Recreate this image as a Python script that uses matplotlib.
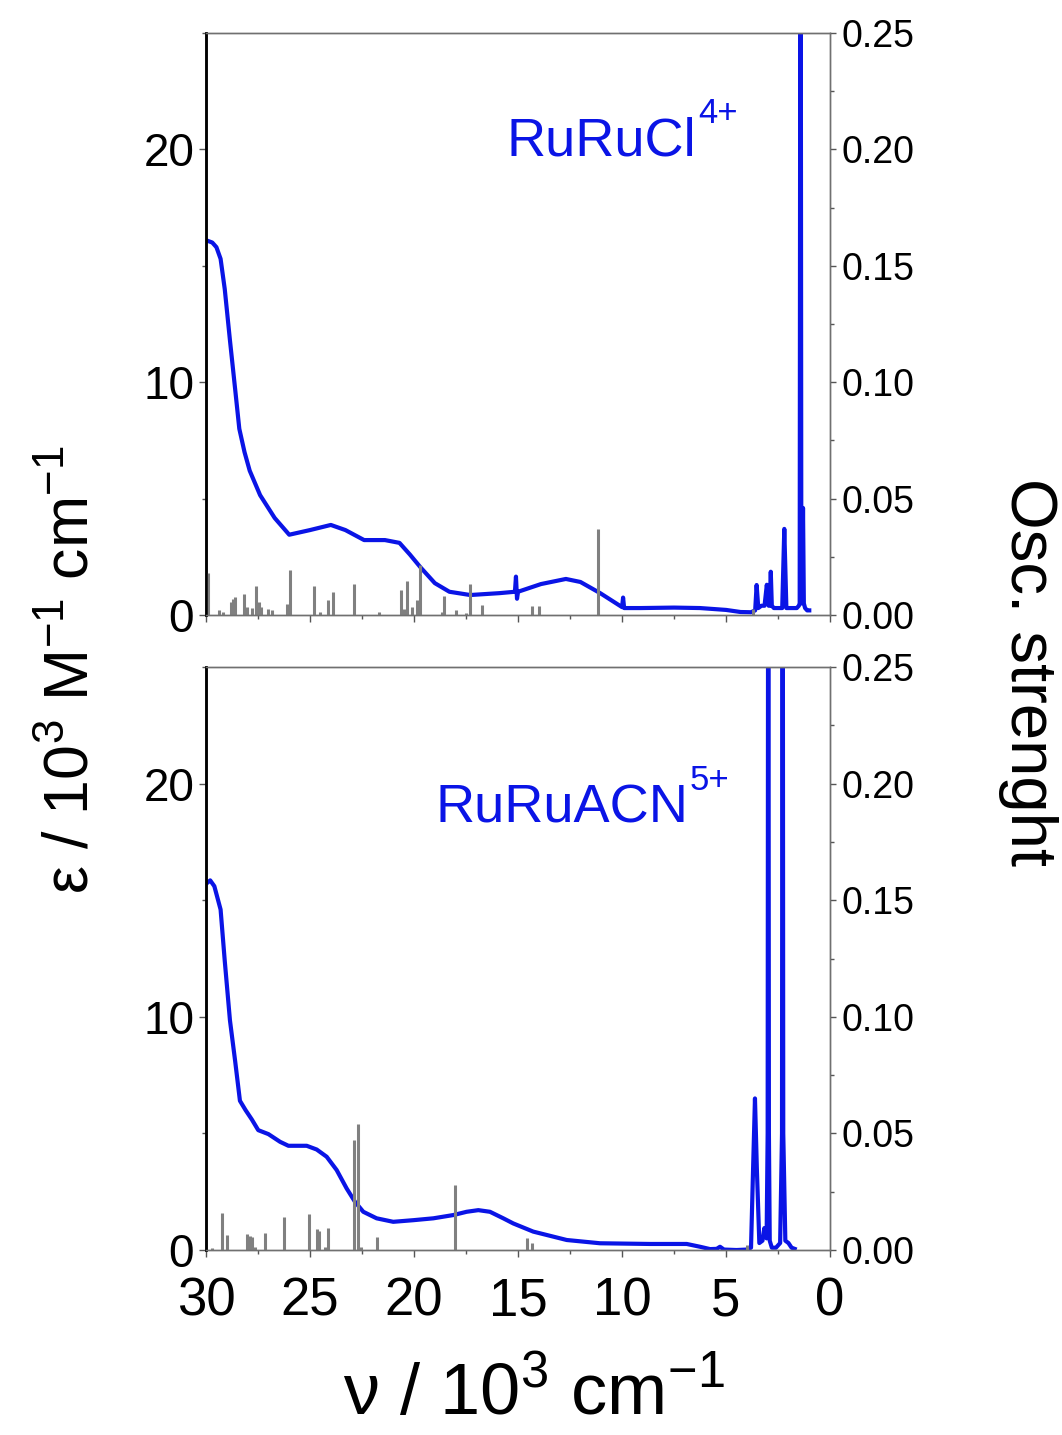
import matplotlib.pyplot as plt
from matplotlib.ticker import MultipleLocator

plt.rcParams['font.family'] = ['Liberation Sans', 'DejaVu Sans']
plt.rcParams['mathtext.fontset'] = 'custom'
plt.rcParams['mathtext.rm'] = 'Liberation Sans'
plt.rcParams['mathtext.it'] = 'Liberation Sans'

# spectrum RuRuCl4+ (wavenumber / 10^3 cm-1, epsilon / 10^3 M-1 cm-1)
cl_nu = [30.0, 29.7, 29.5, 29.3, 29.1, 28.85, 28.6, 28.4, 28.15, 27.9, 27.4, 26.7, 26.0,
         25.0, 24.0, 23.3, 22.4, 21.4, 20.7, 20.2, 19.7, 19.0, 18.3, 17.3, 15.9,
         15.15, 15.1, 15.05, 15.0, 13.9, 12.7, 12.0, 11.05, 10.0, 9.95, 9.9, 9.1,
         7.5, 6.25, 5.0, 4.3, 3.8, 3.6, 3.53, 3.45, 3.3, 3.15, 3.04, 2.95, 2.9,
         2.85, 2.8, 2.7, 2.3, 2.2, 2.1, 1.6, 1.5, 1.46, 1.42, 1.38, 1.34, 1.30,
         1.26, 1.2, 1.1, 1.0]
cl_eps = [16.1, 16.0, 15.8, 15.3, 14.0, 11.8, 9.7, 8.0, 7.0, 6.2, 5.15, 4.17, 3.45,
          3.65, 3.87, 3.65, 3.22, 3.22, 3.1, 2.6, 2.06, 1.37, 1.0, 0.86, 0.94,
          1.0, 1.65, 0.7, 1.0, 1.33, 1.55, 1.42, 0.94, 0.34, 0.75, 0.3, 0.3,
          0.32, 0.3, 0.22, 0.13, 0.12, 0.2, 1.29, 0.3, 0.4, 0.4, 1.3, 0.4, 0.4,
          1.86, 0.4, 0.3, 0.3, 3.7, 0.3, 0.3, 0.4, 0.5, 40.0, 0.5, 0.6, 4.6,
          0.5, 0.3, 0.2, 0.2]

# spectrum RuRuACN5+
acn_nu = [30.0, 29.8, 29.6, 29.3, 29.1, 28.85, 28.6, 28.37, 28.1, 27.8, 27.49,
          27.0, 26.44, 26.04, 25.16, 24.68, 24.2, 23.72, 23.24, 22.84, 22.44,
          21.8, 21.0, 20.03, 19.07, 18.11, 17.47, 16.91, 16.35, 15.71, 15.23,
          14.27, 12.66, 11.06, 8.65, 6.89, 6.25, 5.77, 5.45, 5.29, 5.1, 4.5,
          4.0, 3.8, 3.7, 3.61, 3.52, 3.4, 3.25, 3.16, 3.05, 3.0, 2.97, 2.94,
          2.9, 2.8, 2.6, 2.4, 2.31, 2.28, 2.25, 2.15, 2.0, 1.85, 1.7]
acn_eps = [15.7, 15.85, 15.6, 14.6, 12.4, 9.85, 8.1, 6.4, 6.0, 5.6, 5.14,
           4.97, 4.64, 4.47, 4.47, 4.31, 4.0, 3.43, 2.64, 2.07, 1.64,
           1.36, 1.21, 1.28, 1.36, 1.5, 1.64, 1.71, 1.64, 1.36, 1.14,
           0.79, 0.43, 0.29, 0.26, 0.26, 0.14, 0.04, 0.05, 0.14, 0.02, 0.0,
           0.02, 0.1, 3.5, 6.5, 3.5, 0.3, 0.4, 0.94, 0.5, 5.0, 40.0, 5.0,
           0.4, 0.1, 0.1, 0.3, 5.0, 40.0, 5.0, 0.4, 0.3, 0.1, 0.05]

# calculated transitions (osc. strength)
cl_st_nu = [29.89, 29.4, 29.2, 28.81, 28.72, 28.62, 28.16, 28.05, 27.8, 27.61,
            27.45, 27.35, 27.0, 26.85, 26.09, 25.98, 24.81, 24.5, 24.12, 23.88,
            22.87, 21.7, 20.63, 20.5, 20.32, 20.11, 19.84, 19.70, 18.65, 18.58,
            18.0, 17.5, 17.33, 16.73, 14.34, 14.01, 11.17, 3.7]
cl_st_f = [0.0179, 0.002, 0.0015, 0.0057, 0.0069, 0.0079, 0.009, 0.0035, 0.003,
           0.0125, 0.0054, 0.0035, 0.0025, 0.002, 0.0049, 0.0195, 0.0125, 0.0015,
           0.0064, 0.01, 0.0132, 0.0015, 0.0107, 0.0025, 0.0145, 0.0036, 0.0066,
           0.0216, 0.0015, 0.008, 0.002, 0.001, 0.0133, 0.0043, 0.0037, 0.0037,
           0.037, 0.0026]

acn_st_nu = [29.73, 29.22, 29.0, 28.01, 27.9, 27.8, 27.65, 27.16, 26.27, 25.05,
             24.65, 24.57, 24.3, 24.12, 22.87, 22.67, 22.55, 21.76, 18.03, 14.59,
             14.33, 4.0]
acn_st_f = [0.001, 0.0157, 0.0064, 0.0067, 0.006, 0.0057, 0.0015, 0.0071, 0.014,
            0.0156, 0.009, 0.0083, 0.0015, 0.0094, 0.0471, 0.054, 0.0015, 0.0057,
            0.028, 0.0053, 0.0029, 0.002]

names = ['RuRuCl', 'RuRuACN']
charges = ['4+', '5+']
name_pos = [(0.482, 0.79), (0.367, 0.734)]

blue = '#0a14e6'
fig = plt.figure(figsize=(10.62, 14.35), dpi=100)
ax_top = fig.add_axes([0.194, 0.5714, 0.5876, 0.4056])
ax_bot = fig.add_axes([0.194, 0.1289, 0.5876, 0.4063])

panels = [(ax_top, cl_nu, cl_eps, cl_st_nu, cl_st_f),
          (ax_bot, acn_nu, acn_eps, acn_st_nu, acn_st_f)]

for i, (ax, nu, eps, snu, sf) in enumerate(panels):
    ax2 = ax.twinx()
    ax2.vlines(snu, 0, sf, color='#808080', lw=2.2)
    ax.plot(nu, eps, color=blue, lw=3.0, solid_joinstyle='round')
    ax.set_xlim(30, 0)
    ax.set_ylim(0, 25)
    ax2.set_ylim(0, 0.25)
    ax.xaxis.set_major_locator(MultipleLocator(5))
    ax.xaxis.set_minor_locator(MultipleLocator(2.5))
    ax.yaxis.set_major_locator(MultipleLocator(10))
    ax.yaxis.set_minor_locator(MultipleLocator(5))
    ax2.yaxis.set_major_locator(MultipleLocator(0.05))
    ax2.yaxis.set_minor_locator(MultipleLocator(0.025))
    ax2.yaxis.set_major_formatter(plt.FormatStrFormatter('%.2f'))
    ax.tick_params(which='major', direction='out', length=5, width=1, labelsize=33, color='#555555')
    ax.tick_params(which='minor', direction='out', length=3, width=1, color='#555555')
    ax2.tick_params(which='major', direction='out', length=4, width=1, labelsize=27, color='#555555', pad=4)
    ax2.tick_params(which='minor', direction='out', length=3, width=1, color='#555555')
    ax.tick_params(axis='x', labelsize=38, pad=14)
    for a in (ax, ax2):
        for s in ('top', 'right', 'bottom'):
            a.spines[s].set_color('#707070')
            a.spines[s].set_linewidth(1.0)
        a.spines['left'].set_color('black')
        a.spines['left'].set_linewidth(1.8)
    t = ax.text(name_pos[i][0], name_pos[i][1], names[i], transform=ax.transAxes,
                color=blue, fontsize=39, ha='left', va='baseline')
    ax.annotate(charges[i], xy=(1, 0), xycoords=t, xytext=(1, 31),
                textcoords='offset points', color=blue, fontsize=25,
                ha='left', va='baseline')
    if i == 0:
        ax.tick_params(axis='x', labelbottom=False)

fig.text(0.068, 0.533, r'$\epsilon$ / 10$^3$ M$^{-1}$ cm$^{-1}$', rotation=90,
         fontsize=45, ha='center', va='center')
fig.text(0.968, 0.532, 'Osc. strenght', rotation=-90, fontsize=47,
         ha='center', va='center')
fig.text(0.503, 0.028, r'$\nu$ / 10$^3$ cm$^{-1}$', fontsize=52,
         ha='center', va='center')

fig.savefig('out.png', dpi=100)
